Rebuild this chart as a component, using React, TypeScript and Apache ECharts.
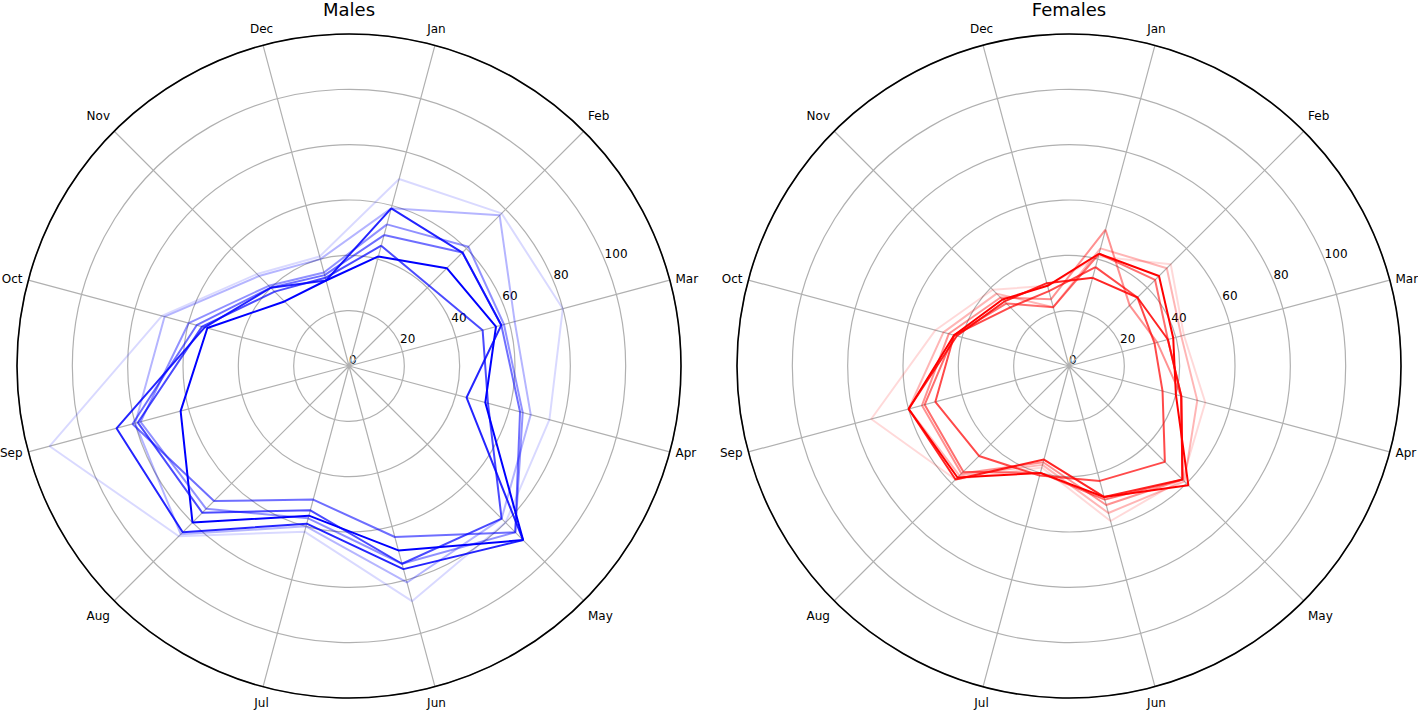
import React, { useEffect, useRef } from 'react';
import * as echarts from 'echarts';

const months = ['Jan', 'Feb', 'Mar', 'Apr', 'May', 'Jun', 'Jul', 'Aug', 'Sep', 'Oct', 'Nov', 'Dec'];
const radiusTicks = [0, 20, 40, 60, 80, 100];
const titles = ['Males', 'Females'];

// Males, lightest (oldest) to darkest (newest)
const male1 = [70, 78, 80, 75, 80, 88, 62, 87, 112, 70, 47, 41];
const male2 = [59, 77, 62, 68, 78, 81, 60, 86, 80, 69, 46, 40];
const male3 = [53, 61, 58, 65, 85, 74, 57, 73, 78, 60, 41, 35];
const male4 = [49, 58, 57, 64, 85, 64, 50, 69, 81, 57, 40, 34];
const male5 = [45, 41, 50, 52, 78, 74, 54, 75, 79, 55, 38, 33];
const male6 = [59, 58, 57, 44, 89, 76, 59, 85, 87, 54, 40, 32];
const male7 = [41, 50, 55, 51, 89, 69, 56, 80, 63, 53, 33, 32];

// Females, lightest to darkest
const female1 = [41, 52, 43, 51, 58, 58, 38, 58, 74, 50, 39, 30];
const female2 = [44, 50, 42, 48, 59, 55, 37, 56, 60, 47, 37, 22];
const female3 = [51, 31, 33, 42, 58, 52, 36, 55, 55, 45, 35, 25];
const female4 = [42, 44, 37, 42, 58, 50, 40, 54, 54, 43, 32, 22];
const female5 = [37, 35, 32, 35, 49, 43, 41, 46, 50, 43, 30, 28];
const female6 = [33, 35, 37, 42, 58, 49, 35, 58, 60, 42, 33, 31];
const female7 = [42, 46, 39, 40, 61, 49, 40, 57, 60, 43, 34, 30];

const maleLines = [male1, male2, male3, male4, male5, male6, male7];
const femaleLines = [female1, female2, female3, female4, female5, female6, female7];
const lineAlphas = [0.15, 0.29, 0.43, 0.57, 0.71, 0.86, 1];
const groups = [
  { lines: maleLines, color: '#0000ff' },
  { lines: femaleLines, color: '#ff0000' },
];

export default function App() {
  const ref = useRef<HTMLDivElement>(null);
  useEffect(() => {
    const chart = echarts.init(ref.current as HTMLDivElement, null, { renderer: 'svg' });
    const font = 'DejaVu Sans';
    const centers = [[349, 366], [1069, 366]];
    const R = 332;
    const step = 360 / months.length;
    const gridStyle = { color: '#b0b0b0', width: 1.2 };
    const polar: any[] = [];
    const angleAxis: any[] = [];
    const radiusAxis: any[] = [];
    const series: any[] = [];
    const graphic: any[] = [];
    centers.forEach((c, i) => {
      polar.push({ center: c, radius: R });
      polar.push({ center: c, radius: R });
      angleAxis.push({
        polarIndex: 2 * i,
        type: 'value',
        min: 0,
        max: 360,
        interval: step,
        startAngle: 75,
        clockwise: true,
        z: 1,
        axisLine: { lineStyle: { color: '#000', width: 1.6 } },
        axisTick: { show: false },
        axisLabel: {
          margin: 6,
          padding: [5, 0, 5, 0],
          color: '#000',
          fontSize: 12,
          fontFamily: font,
          formatter: (v: number) => (v < 360 ? months[Math.round(v / step)] : ''),
        },
        splitLine: { show: true, lineStyle: gridStyle },
      });
      angleAxis.push({
        polarIndex: 2 * i + 1,
        type: 'value',
        min: 0,
        max: 360,
        startAngle: 22.5,
        show: false,
      });
      radiusAxis.push({
        polarIndex: 2 * i,
        min: 0,
        max: 120,
        interval: 20,
        axisLine: { show: false },
        axisTick: { show: false },
        axisLabel: { show: false },
        splitLine: { show: true, lineStyle: gridStyle },
      });
      radiusAxis.push({
        polarIndex: 2 * i + 1,
        min: 0,
        max: 120,
        interval: 20,
        axisLine: { show: false },
        axisTick: { show: false },
        splitLine: { show: false },
        axisLabel: {
          margin: 0,
          align: 'left',
          verticalAlign: 'bottom',
          color: '#000',
          fontSize: 12,
          fontFamily: font,
          formatter: (v: number) => (radiusTicks.includes(v) ? String(v) : ''),
        },
      });
      groups[i].lines.forEach((vals, k) => {
        const data: any[] = vals.map((v, j) => [v, j * step]);
        data.push([vals[0], 360]);
        series.push({
          type: 'line',
          coordinateSystem: 'polar',
          polarIndex: 2 * i,
          data,
          symbol: 'none',
          silent: true,
          lineStyle: { color: groups[i].color, width: 2, opacity: lineAlphas[k] },
        });
      });
      graphic.push({
        type: 'text',
        x: c[0],
        y: 9,
        style: {
          text: titles[i],
          fontSize: 18,
          fontFamily: font,
          fill: '#000',
          align: 'center',
          verticalAlign: 'middle',
        },
      });
    });
    chart.setOption({
      animation: false,
      backgroundColor: '#fff',
      polar,
      angleAxis,
      radiusAxis,
      series,
      graphic,
    });
    return () => chart.dispose();
  }, []);
  return (
    <div
      ref={ref}
      style={{ position: 'fixed', left: 0, top: 0, width: 1418, height: 711 }}
    />
  );
}
